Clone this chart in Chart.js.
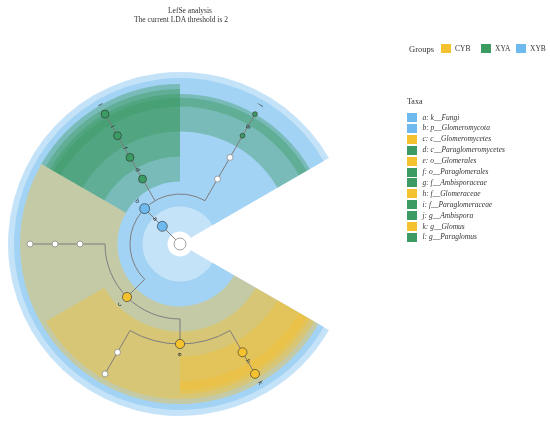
<!DOCTYPE html>
<html><head><meta charset="utf-8">
<script src="https://cdn.jsdelivr.net/npm/chart.js@4.4.0/dist/chart.umd.min.js"></script>
<style>
html,body{margin:0;padding:0;background:#fff;}
#wrap{position:relative;width:550px;height:426px;overflow:hidden;font-family:'Liberation Serif','Times New Roman',serif;color:#333;}
#c{position:absolute;left:0;top:0;}
.t{position:absolute;white-space:nowrap;line-height:10px;}
.sw{position:absolute;}
</style></head><body>
<div id="wrap"><canvas id="c" width="550" height="426"></canvas></div>
<script>
// ---------------- data ----------------
const titleLines = ['LefSe analysis', 'The current LDA threshold is 2'];
const groupNames = ['CYB', 'XYA', 'XYB'];
const taxaLetters = ['a','b','c','d','e','f','g','h','i','j','k','l'];
const taxaNames = ['k__Fungi','p__Glomeromycota','c__Glomeromycetes','c__Paraglomeromycetes','o__Glomerales','o__Paraglomerales','f__Ambisporaceae','f__Glomeraceae','f__Paraglomeraceae','g__Ambispora','g__Glomus','g__Paraglomus'];
const taxaGroups = ['XYB','XYB','CYB','XYA','CYB','XYA','XYA','CYB','XYA','XYA','CYB','XYA'];
// lineages of the leaves, in drawing order (counter-clockwise)
const lineages = [
  'k__Fungi|p__Glomeromycota|c__Archaeosporomycetes|o__Archaeosporales|f__Ambisporaceae|g__Ambispora',
  'k__Fungi|p__Glomeromycota|c__Paraglomeromycetes|o__Paraglomerales|f__Paraglomeraceae|g__Paraglomus',
  'k__Fungi|p__Glomeromycota|c__Glomeromycetes|o__Diversisporales|f__Diversisporaceae|g__Diversispora',
  'k__Fungi|p__Glomeromycota|c__Glomeromycetes|o__Glomerales|f__Claroideoglomeraceae|g__Claroideoglomus',
  'k__Fungi|p__Glomeromycota|c__Glomeromycetes|o__Glomerales|f__Glomeraceae|g__Glomus'
];

// ---------------- styles / layout ----------------
const GROUP_COLORS = {CYB:[244,193,47], XYA:[60,155,98], XYB:[110,185,238]};
const SHADE_ALPHA = 0.4;
const START_ANGLE = 30, SPAN = 300;
const OUTER_BY_LEVEL = [6.88, 6.64, 6.4, 6.2, 6.0, 5.85];
const NODE_SIZE = {a:5,b:5,c:4.6,d:4,e:4.6,f:4,g:2.4,h:4.5,i:4,j:2.4,k:4.5,l:4};
const rgb = (c, a) => a === undefined ? `rgb(${c[0]},${c[1]},${c[2]})` : `rgba(${c[0]},${c[1]},${c[2]},${a})`;

// ---------------- build tree ----------------
const root = {name:'root', level:0, children:[]};
const nodeMap = {};
lineages.forEach((lin, li) => {
  let parent = root, path = '';
  lin.split('|').forEach((p, k) => {
    path = path ? path + '|' + p : p;
    if (!nodeMap[path]) {
      nodeMap[path] = {name:p, level:k+1, children:[], parent};
      parent.children.push(nodeMap[path]);
    }
    parent = nodeMap[path];
  });
  parent.leafIndex = li;
});
const step = SPAN / lineages.length;
(function setAngles(n){
  if (n.children.length === 0) {
    n.angle = START_ANGLE + (n.leafIndex + 0.5) * step; n.minA = n.angle; n.maxA = n.angle;
  } else {
    n.children.forEach(setAngles);
    n.angle = n.children.reduce((s, c) => s + c.angle, 0) / n.children.length;
    n.minA = Math.min(...n.children.map(c => c.minA));
    n.maxA = Math.max(...n.children.map(c => c.maxA));
  }
})(root);
const allNodes = [root, ...Object.values(nodeMap)];
allNodes.forEach(n => {
  const idx = taxaNames.indexOf(n.name);
  if (idx >= 0) { n.letter = taxaLetters[idx]; n.group = taxaGroups[idx]; }
});
const rad = d => d * Math.PI / 180;

// ---------------- plugins ----------------
function geom(chart){
  const xs = chart.scales.x, ys = chart.scales.y;
  const cx = xs.getPixelForValue(0), cy = ys.getPixelForValue(0);
  const unit = xs.getPixelForValue(1) - cx;
  return {cx, cy, unit};
}
const shadePlugin = {
  id:'shade',
  beforeDatasetsDraw(chart){
    const {ctx} = chart; const {cx, cy, unit} = geom(chart);
    const hl = allNodes.filter(n => n.group).sort((p, q) => p.level - q.level);
    ctx.save();
    hl.forEach(n => {
      const a0 = n.minA - step/2, a1 = n.maxA + step/2;
      const rin = (n.level - 0.5) * unit, rout = OUTER_BY_LEVEL[n.level-1] * unit;
      ctx.beginPath();
      ctx.arc(cx, cy, rout, -rad(a0), -rad(a1), true);
      ctx.arc(cx, cy, rin, -rad(a1), -rad(a0), false);
      ctx.closePath();
      ctx.fillStyle = rgb(GROUP_COLORS[n.group], SHADE_ALPHA);
      ctx.fill();
    });
    // branches
    ctx.strokeStyle = '#7d7d7d'; ctx.lineWidth = 1;
    allNodes.forEach(n => {
      if (!n.children.length) return;
      const r = n.level * unit;
      if (n.children.length > 1) {
        const cmin = Math.min(...n.children.map(c => c.angle)), cmax = Math.max(...n.children.map(c => c.angle));
        ctx.beginPath(); ctx.arc(cx, cy, r, -rad(cmin), -rad(cmax), true); ctx.stroke();
      }
      n.children.forEach(c => {
        const t = rad(c.angle), r2 = c.level * unit;
        ctx.beginPath();
        ctx.moveTo(cx + r * Math.cos(t), cy - r * Math.sin(t));
        ctx.lineTo(cx + r2 * Math.cos(t), cy - r2 * Math.sin(t));
        ctx.stroke();
      });
    });
    ctx.restore();
  }
};
const labelPlugin = {
  id:'labels',
  afterDatasetsDraw(chart){
    const {ctx} = chart; const {cx, cy, unit} = geom(chart);
    ctx.save();
    ctx.font = '6px "DejaVu Sans", sans-serif';
    ctx.fillStyle = '#222'; ctx.textAlign = 'center'; ctx.textBaseline = 'middle';
    allNodes.filter(n => n.letter).forEach(n => {
      const t = rad(n.angle), r = (n.level + 0.42) * unit;
      const x = cx + r * Math.cos(t), y = cy - r * Math.sin(t);
      ctx.save(); ctx.translate(x, y);
      let rot = -t; if (n.angle > 90 && n.angle < 270) rot += Math.PI;
      ctx.rotate(rot); ctx.fillText(n.letter, 0, 0); ctx.restore();
    });
    ctx.restore();
  }
};

// ---------------- chart ----------------
const pts = allNodes.map(n => ({x: n.level * Math.cos(rad(n.angle)), y: n.level * Math.sin(rad(n.angle))}));
new Chart(document.getElementById('c'), {
  type:'scatter',
  data:{datasets:[{
    data: pts,
    pointRadius: allNodes.map(n => n.level === 0 ? 6 : (n.letter ? NODE_SIZE[n.letter] : 3)),
    pointBackgroundColor: allNodes.map(n => n.group ? rgb(GROUP_COLORS[n.group]) : '#ffffff'),
    pointBorderColor: allNodes.map(n => n.group ? 'rgba(45,45,45,0.75)' : '#8c8c8c'),
    pointBorderWidth: 0.8,
    pointHoverRadius: 0,
    clip: false
  }]},
  options:{
    responsive:false, animation:false,
    layout:{autoPadding:false, padding:{left:0, right:190, top:64, bottom:2}},
    scales:{
      x:{type:'linear', min:-7.2, max:7.2, display:false},
      y:{type:'linear', min:-7.2, max:7.2, display:false}
    },
    plugins:{legend:{display:false}, tooltip:{enabled:false}, title:{display:false}},
    events:[]
  },
  plugins:[shadePlugin, labelPlugin]
});

// ---------------- text (title & legends) ----------------
const wrap = document.getElementById('wrap');
function addText(txt, left, top, css){
  const d = document.createElement('div'); d.className = 't'; d.textContent = txt;
  d.style.left = left + 'px'; d.style.top = top + 'px';
  Object.assign(d.style, css || {}); wrap.appendChild(d); return d;
}
function addSwatch(color, left, top, w, h){
  const d = document.createElement('div'); d.className = 'sw';
  Object.assign(d.style, {left:left+'px', top:top+'px', width:w+'px', height:h+'px', background:color});
  wrap.appendChild(d);
}
// title
addText(titleLines[0], 140, 6, {fontSize:'7.5px', width:'100px', textAlign:'center'});
addText(titleLines[1], 131, 15, {fontSize:'7.5px', width:'100px', textAlign:'center'});
// groups legend
addText('Groups', 409, 43.5, {fontSize:'8.5px'});
const gLeft = [441, 481, 516];
groupNames.forEach((g, i) => {
  addSwatch(rgb(GROUP_COLORS[g]), gLeft[i], 44, 9.5, 9);
  addText(g, gLeft[i] + 14, 44, {fontSize:'7.5px'});
});
// taxa legend
addText('Taxa', 407, 97, {fontSize:'8px'});
taxaLetters.forEach((l, i) => {
  const cy = 117.5 + i * 10.9;
  addSwatch(rgb(GROUP_COLORS[taxaGroups[i]]), 407, cy - 4.5, 9.5, 9);
  addText(l + ': ' + taxaNames[i], 422.5, cy - 5, {fontSize:'7.5px', fontStyle:'italic'});
});
</script>
</body></html>
